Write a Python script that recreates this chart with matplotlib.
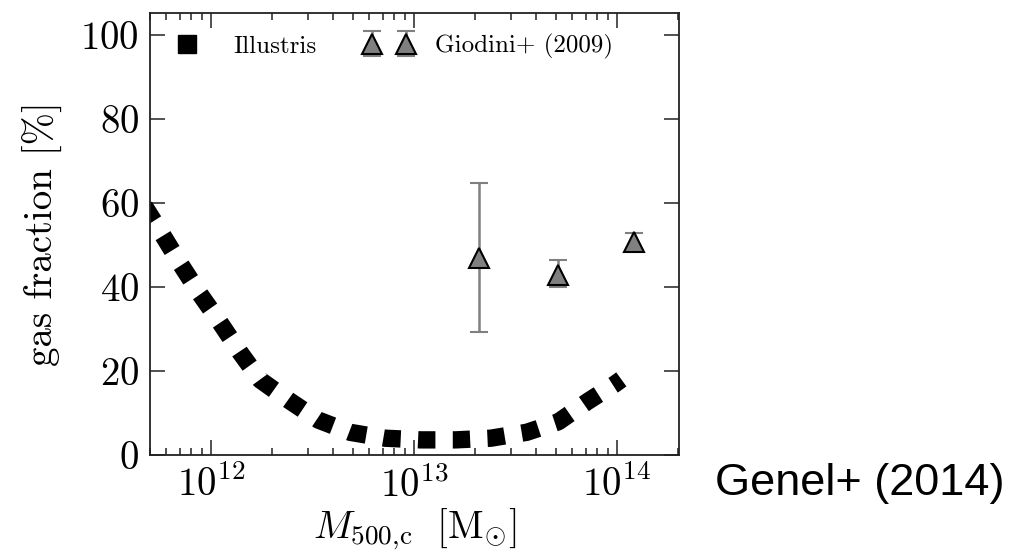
import matplotlib
matplotlib.use("Agg")
import matplotlib.pyplot as plt
from matplotlib.lines import Line2D
from matplotlib.legend_handler import HandlerLine2D
from matplotlib.ticker import LogLocator, NullLocator, FixedLocator

plt.rcParams['font.family'] = 'serif'
plt.rcParams['font.serif'] = ['cmr10', 'DejaVu Serif']
plt.rcParams['mathtext.fontset'] = 'cm'
plt.rcParams['axes.formatter.use_mathtext'] = True

# Illustris curve (M500c in Msun, gas fraction in %)
illustris_mass = [4.70e11, 5.68e11, 7.03e11, 8.75e11, 1.10e12, 1.38e12, 1.74e12,
                  2.40e12, 3.38e12, 4.84e12, 7.19e12, 1.08e13, 1.60e13, 2.39e13,
                  3.59e13, 5.14e13, 7.14e13, 9.77e13, 1.05e14]
illustris_frac = [59.2, 52.9, 45.6, 38.5, 31.7, 24.6, 17.9,
                  13.1, 8.3, 5.4, 4.0, 3.6, 3.6, 4.0,
                  5.4, 7.9, 12.7, 16.9, 18.0]

# Giodini+ (2009)
giodini_mass = [2.1e13, 5.1e13, 1.21e14]
giodini_frac = [46.9, 42.9, 50.8]
giodini_err_low = [17.6, 2.8, 2.0]
giodini_err_high = [17.9, 3.5, 2.1]

y_ticks = [0, 20, 40, 60, 80, 100]

fig = plt.figure(figsize=(10.31, 5.56), dpi=100)
ax = fig.add_axes([150/1031, (556-455)/556, (679-150)/1031, (455-13)/556])

ax.plot(illustris_mass, illustris_frac, color='black', lw=12.5,
        dashes=(1.0, 1.0), dash_capstyle='butt', solid_capstyle='butt')

ax.errorbar(giodini_mass, giodini_frac, yerr=[giodini_err_low, giodini_err_high],
            fmt='^', mfc='#808080', mec='black', ms=14, mew=1.5,
            ecolor='#808080', elinewidth=1.8, capsize=6.5, capthick=1.5, zorder=3)

ax.set_xscale('log')
ax.set_xlim(5.0e11, 2.02e14)
ax.set_ylim(0, 105.2)
ax.yaxis.set_major_locator(FixedLocator(y_ticks))
ax.yaxis.set_minor_locator(NullLocator())
ax.xaxis.set_major_locator(LogLocator(base=10, numticks=10))
ax.xaxis.set_minor_locator(LogLocator(base=10, subs=range(2, 10), numticks=20))

for s in ax.spines.values():
    s.set_color('#222222')
    s.set_linewidth(1.3)
ax.tick_params(which='both', direction='in', top=True, right=True, color='#222222',
               width=1.1)
ax.tick_params(which='major', length=11, labelsize=28, pad=8)
ax.tick_params(which='minor', length=5)

ax.set_ylabel('gas fraction [%]', fontsize=28, labelpad=12)
ax.set_xlabel(r'$M_{500{,}\mathrm{c}}\ \ [\mathrm{M}_{\odot}]$', fontsize=28, labelpad=1)

h1 = Line2D([], [], color='black', marker='s', ms=12.5, ls='none')
h2 = ax.containers[0]
leg = ax.legend([h1, h2], ['Illustris', 'Giodini+ (2009)'], loc='upper left',
                ncol=2, frameon=False, fontsize=18, numpoints=2,
                handlelength=1.96, handletextpad=0.85, columnspacing=1.95,
                borderaxespad=0.0, bbox_to_anchor=(0.005, 0.975),
                handler_map={h1: HandlerLine2D(numpoints=1)})

fig.text(715/1031, (556-483)/556, 'Genel+ (2014)', va='center', ha='left',
         fontsize=32.5, family=['Liberation Sans', 'DejaVu Sans'])

fig.savefig('out.png', dpi=100)
